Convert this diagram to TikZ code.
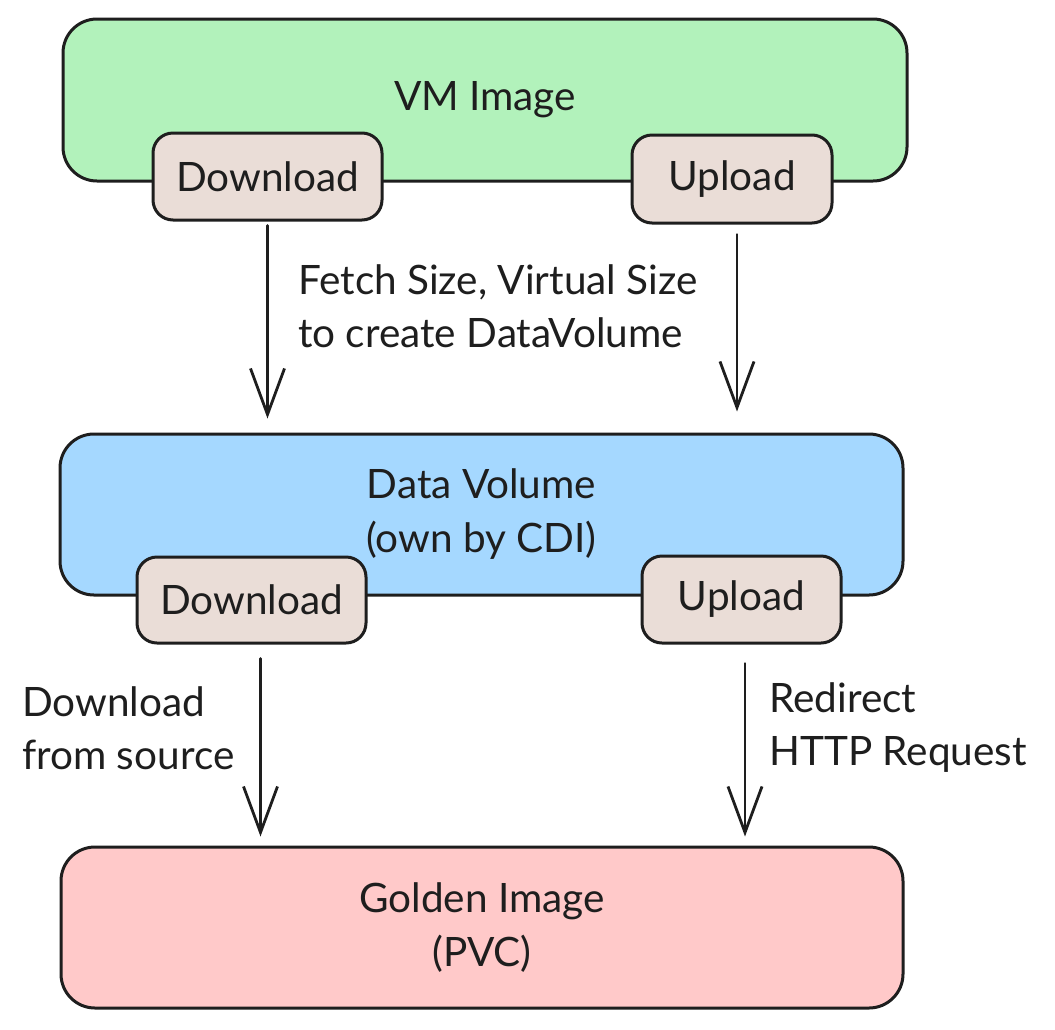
\documentclass[tikz,border=0pt]{standalone}
\usepackage{fontspec}
\setmainfont{Lato}
\usetikzlibrary{arrows.meta}
\definecolor{ink}{HTML}{1E1E1E}
\definecolor{vmgreen}{HTML}{B2F2BB}
\definecolor{dvblue}{HTML}{A5D8FF}
\definecolor{gired}{HTML}{FFC9C9}
\definecolor{tagfill}{HTML}{EADDD7}
\begin{document}
\begin{tikzpicture}[x=1pt,y=-1pt,
  bigbox/.style={draw=ink,line width=3pt,rounded corners=34pt,align=center,
    text=ink,font=\fontsize{40.5}{54}\selectfont,inner sep=0pt},
  tagbox/.style={draw=ink,line width=3pt,rounded corners=20pt,fill=tagfill,
    text=ink,font=\fontsize{40.5}{54}\selectfont,inner sep=0pt},
  lbl/.style={align=left,anchor=west,text=ink,font=\fontsize{40.5}{53}\selectfont,inner sep=0pt},
  arr/.style={draw=ink,line width=2.8pt,line cap=round,
    -{Straight Barb[length=46pt,width=34pt,line width=2.8pt]}}]
\fill[white] (0,0) rectangle (1055,1029);
\useasboundingbox (0,0) rectangle (1055,1029);

\node[bigbox,fill=vmgreen,minimum width=844pt,minimum height=162pt] (vm) at (485,100) {VM Image};
\node[tagbox,minimum width=229pt,minimum height=87pt] (dl1) at (267.5,176.5) {Download};
\node[tagbox,minimum width=200pt,minimum height=88pt] (ul1) at (732,179) {Upload};

\node[bigbox,fill=dvblue,minimum width=843pt,minimum height=161pt] (dv) at (481.5,514.5) {Data Volume\\(own by CDI)};
\node[tagbox,minimum width=229pt,minimum height=86pt] (dl2) at (251.5,600) {Download};
\node[tagbox,minimum width=199pt,minimum height=87pt] (ul2) at (741.5,599.5) {Upload};

\node[bigbox,fill=gired,minimum width=842pt,minimum height=161pt] (gi) at (482,927.5) {Golden Image\\(PVC)};

\draw[arr,shorten >=14pt] ([yshift=-4pt]dl1.south) -- (dl1.south |- dv.north);
\draw[arr,shorten >=21pt] ([xshift=5pt,yshift=-10pt]ul1.south) -- ([xshift=5pt]ul1.south |- dv.north);
\draw[arr,shorten >=9pt] ([xshift=9pt,yshift=-14pt]dl2.south) -- ([xshift=9pt]dl2.south |- gi.north);
\draw[arr,shorten >=9pt] ([xshift=3.5pt,yshift=-19pt]ul2.south) -- ([xshift=3.5pt]ul2.south |- gi.north);

\node[lbl] (l1) at (298,306) {Fetch Size, Virtual Size\\to create DataVolume};
\node[lbl] (l2) at (22,728) {Download\\from source};
\node[lbl] (l3) at (769,728) {Redirect\\HTTP Request};
\end{tikzpicture}
\end{document}
